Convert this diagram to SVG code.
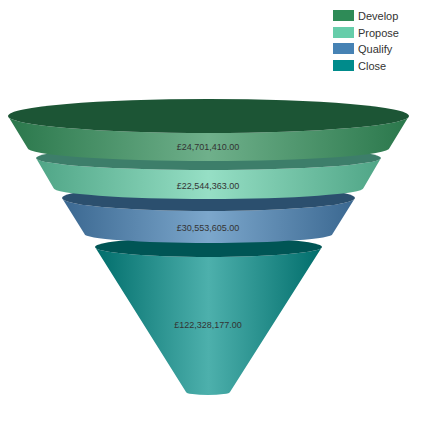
<svg xmlns="http://www.w3.org/2000/svg" width="437" height="437" viewBox="0 0 437 437">
<style>
.lbl{font-family:"Liberation Sans","Open Sans",sans-serif;font-size:9px;fill:#333;text-anchor:middle}
.leg{font-family:"Liberation Sans","Open Sans",sans-serif;font-size:11px;fill:#333}
</style>
<defs>
<linearGradient id="g1" x1="0" y1="0" x2="1" y2="0">
<stop offset="0" stop-color="#2A774B"/><stop offset="0.5" stop-color="#6FB08B"/><stop offset="1" stop-color="#2A774B"/>
</linearGradient>
<linearGradient id="g2" x1="0" y1="0" x2="1" y2="0">
<stop offset="0" stop-color="#4FA586"/><stop offset="0.5" stop-color="#96DFC5"/><stop offset="1" stop-color="#4FA586"/>
</linearGradient>
<linearGradient id="g3" x1="0" y1="0" x2="1" y2="0">
<stop offset="0" stop-color="#3A6790"/><stop offset="0.5" stop-color="#7CA7CC"/><stop offset="1" stop-color="#3A6790"/>
</linearGradient>
<linearGradient id="g4" x1="0" y1="0" x2="1" y2="0">
<stop offset="0" stop-color="#006D6B"/><stop offset="0.5" stop-color="#4DB0AC"/><stop offset="1" stop-color="#006D6B"/>
</linearGradient>
</defs>
<rect width="437" height="437" fill="#fff"/>
<g id="close">
<path d="M95,247 L186,392 A22,3 0 0 0 230,392 L322,247 A113.5,10 0 0 1 95,247 Z" fill="url(#g4)"/>
<ellipse cx="208.5" cy="247" rx="113.5" ry="10" fill="#005555"/>
<text class="lbl" x="208" y="328">£122,328,177.00</text>
</g>
<g id="qualify">
<path d="M62,198 L84.5,234 A124,9 0 0 0 332.5,234 L355,198 A146.5,13 0 0 1 62,198 Z" fill="url(#g3)"/>
<ellipse cx="208.5" cy="198" rx="146.5" ry="13" fill="#2B4F6E"/>
<text class="lbl" x="208" y="231">£30,553,605.00</text>
</g>
<g id="propose">
<path d="M36,158 L53.5,188 A155,11 0 0 0 363.5,188 L381,158 A172.5,12 0 0 1 36,158 Z" fill="url(#g2)"/>
<ellipse cx="208.5" cy="158" rx="172.5" ry="12" fill="#3D7E6A"/>
<text class="lbl" x="208" y="189">£22,544,363.00</text>
</g>
<g id="develop">
<path d="M8,116 L27.5,148 A181,13 0 0 0 389.5,148 L409,116 A200.5,17 0 0 1 8,116 Z" fill="url(#g1)"/>
<ellipse cx="208.5" cy="116" rx="200.5" ry="17" fill="#1C5535"/>
<text class="lbl" x="208" y="150">£24,701,410.00</text>
</g>
<g id="legend">
<rect x="333" y="10" width="21" height="11" fill="#2E8B57"/><text class="leg" x="358" y="20">Develop</text>
<rect x="333" y="27" width="21" height="11" fill="#66CDAA"/><text class="leg" x="358" y="37">Propose</text>
<rect x="333" y="43" width="21" height="11" fill="#4682B4"/><text class="leg" x="358" y="53">Qualify</text>
<rect x="333" y="60" width="21" height="11" fill="#008B8B"/><text class="leg" x="358" y="70">Close</text>
</g>
<g id="connectors"/>
</svg>
